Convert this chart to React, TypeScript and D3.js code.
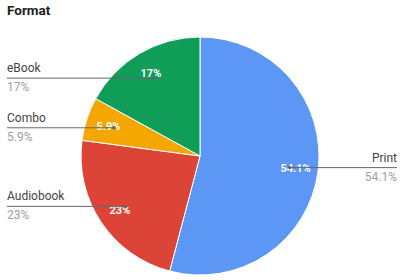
import React from "react";
import * as d3 from "d3";

const categories = ["Print", "Audiobook", "Combo", "eBook"];
const values = [54.1, 23, 5.9, 17];
const valueLabels = ["54.1%", "23%", "5.9%", "17%"];
const colors = ["#5C97F6", "#DB4437", "#F4A700", "#0F9D58"];
const title = "Format";

const W = 400;
const H = 280;
const cx = 200;
const cy = 156;
const R = 119;

export default function App() {
  const pie = d3.pie<number>().sort(null).value((d) => d)(values);
  const arc = d3.arc<d3.PieArcDatum<number>>().innerRadius(0).outerRadius(R);
  const textArc = d3.arc<d3.PieArcDatum<number>>().innerRadius(R * 0.81).outerRadius(R * 0.81);
  const dotArc = d3.arc<d3.PieArcDatum<number>>().innerRadius(R * 0.76).outerRadius(R * 0.76);

  return (
    <div style={{ position: "absolute", left: 0, top: 0 }}>
      <svg width={W} height={H} style={{ display: "block", fontFamily: "Roboto, sans-serif" }}>
        <rect width={W} height={H} fill="#fff" />
        <text x={7} y={15} fontSize={13.5} fontWeight="bold" fill="#222">{title}</text>
        <g transform={`translate(${cx},${cy})`}>
          {pie.map((p, i) => (
            <path key={i} d={arc(p) || ""} fill={colors[i]} stroke="#fff" strokeWidth={1} />
          ))}
        </g>
        {pie.map((p, i) => {
          const [tx, ty] = textArc.centroid(p);
          const [dx, dy] = dotArc.centroid(p);
          const px = cx + dx;
          const py = cy + dy;
          const right = px > cx;
          const endX = right ? 397 : 7;
          return (
            <g key={i}>
              <text x={cx + tx} y={cy + ty + 4} textAnchor="middle" fontSize={11} fontWeight="bold" fill="#fff">
                {valueLabels[i]}
              </text>
              <text x={endX} y={py - 6} textAnchor={right ? "end" : "start"} fontSize={12} fill="#444">
                {categories[i]}
              </text>
              <text x={endX} y={py + 13} textAnchor={right ? "end" : "start"} fontSize={12} fill="#9e9e9e">
                {valueLabels[i]}
              </text>
              <line x1={px} y1={py} x2={endX} y2={py} stroke="#666" strokeWidth={1} />
              <circle cx={px} cy={py} r={1.8} fill="#666" />
            </g>
          );
        })}
      </svg>
    </div>
  );
}
